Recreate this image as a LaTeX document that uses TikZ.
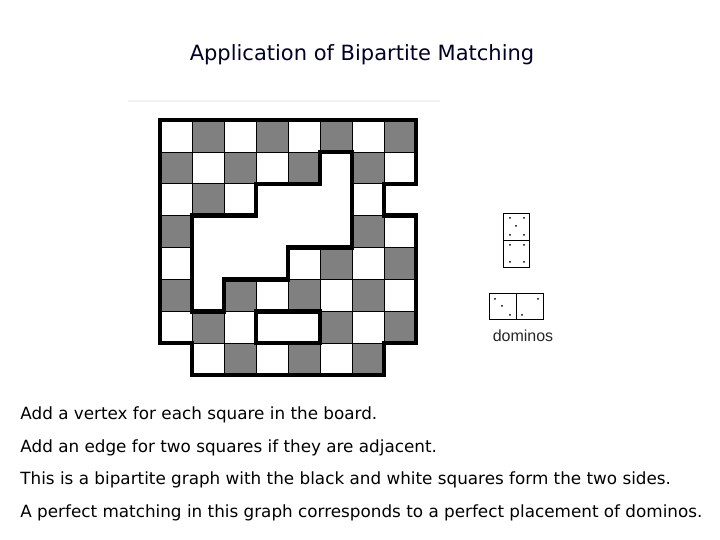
\documentclass[tikz,border=0pt]{standalone}
\usepackage{fontspec}
\setmainfont{DejaVu Sans}
\newfontfamily\arialf{Liberation Sans}
\begin{document}
\begin{tikzpicture}[x=0.5pt,y=-0.5pt,
  cell/.style={draw=black,line width=0.3pt},
  thick outline/.style={draw=black,line width=2.2pt,line join=miter},
  body/.style={anchor=west,inner sep=0pt,font=\fontsize{8.4}{10}\selectfont},
  dom/.style={draw=black,line width=0.5pt,fill=white}]
\useasboundingbox (0,0) rectangle (720,540);
\node[font=\fontsize{10.5}{12}\selectfont,text=black!85!blue] (title) at (362,55) {Application of Bipartite Matching};
\draw[black!5,line width=0.6pt] (128,101) -- (440,101);
\begin{scope}[shift={(160,120)},x=16pt,y=-15.95pt]
\foreach \r in {0,...,7}{
  \foreach \c in {0,...,7}{
    \pgfmathtruncatemacro{\odd}{mod(\r+\c,2)}
    \ifnum\odd=1 \def\fc{black!50}\else\def\fc{white}\fi
    \fill[\fc] (\c,\r) rectangle ++(1,1);
    \draw[cell] (\c,\r) rectangle ++(1,1);
  }
}
\fill[white] (7,2) rectangle (8.2,3);
\fill[white] (-0.2,7) rectangle (1,8.2);
\fill[white] (7,7) rectangle (8.2,8.2);
\path[thick outline,fill=white] (5,1)--(6,1)--(6,4)--(4,4)--(4,5)--(2,5)--(2,6)--(1,6)--(1,3)--(3,3)--(3,2)--(5,2)--cycle;
\path[thick outline,fill=white] (3,6)--(5,6)--(5,7)--(3,7)--cycle;
\draw[thick outline] (0,0)--(8,0)--(8,2)--(7,2)--(7,3)--(8,3)--(8,7)--(7,7)--(7,8)--(1,8)--(1,7)--(0,7)--cycle;
\end{scope}
\node[dom,minimum width=13pt,minimum height=13.5pt,inner sep=0pt] (d1) at (516.5,227) {};
\node[dom,minimum width=13pt,minimum height=13.5pt,inner sep=0pt] (d2) at (516.5,254) {};
\node[dom,minimum width=13.5pt,minimum height=13pt,inner sep=0pt] (d3) at (503,307) {};
\node[dom,minimum width=13.5pt,minimum height=13pt,inner sep=0pt] (d4) at (530,307) {};
\foreach \p in {(510,218),(524,218),(516,226),(510,235),(524,235),(510,245),(524,245),(510,262),(524,262),(495,299),(502,306),(510,315),(538,299),(522,315)}{\fill \p circle (1);}
\node[font=\arialf\fontsize{8}{9}\selectfont,text=black!85] (lab) at (523,336) {dominos};
\node[body] (t1) at (20,415) {Add a vertex for each square in the board.};
\node[body] (t2) at (20,448) {Add an edge for two squares if they are adjacent.};
\node[body] (t3) at (20,480) {This is a bipartite graph with the black and white squares form the two sides.};
\node[body] (t4) at (20,513) {A perfect matching in this graph corresponds to a perfect placement of dominos.};
\end{tikzpicture}
\end{document}
